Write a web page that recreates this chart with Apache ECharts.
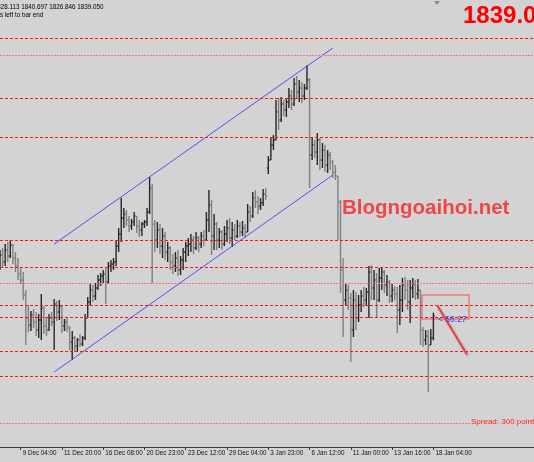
<!DOCTYPE html>
<html>
<head>
<meta charset="utf-8">
<script src="https://cdn.jsdelivr.net/npm/echarts@6/dist/echarts.min.js"></script>
<style>
  html, body { margin: 0; padding: 0; background: #d3d3d3; }
  #chart { width: 534px; height: 462px; }
</style>
</head>
<body>
<div id="chart"></div>
<script>
// XAUUSD H4 bars, index 0 = first visible bar
const opens = [
  1864.5, 1869.5, 1866, 1872, 1869, 1874.5, 1868, 1864, 1860, 1857,
  1849.5, 1838, 1834.5, 1839.5, 1836, 1832, 1837, 1843, 1834, 1832,
  1838, 1836, 1845, 1841, 1844, 1834, 1836, 1833, 1826, 1828,
  1824, 1827, 1825, 1828, 1838, 1846, 1852, 1849, 1853, 1857,
  1859, 1860, 1856, 1864, 1865, 1866, 1874, 1880, 1888, 1890,
  1887, 1884, 1886, 1889, 1884, 1882, 1885, 1886, 1891, 1902,
  1885, 1877, 1882, 1874, 1879, 1871, 1873, 1866, 1864, 1868,
  1862, 1867, 1871, 1874, 1875, 1877, 1873, 1878, 1875, 1879,
  1877, 1887, 1894.5, 1879, 1885, 1877, 1881, 1875, 1880, 1883,
  1878, 1882, 1879, 1884, 1881, 1883, 1881, 1891, 1889, 1898,
  1896, 1894, 1895.5, 1900, 1913, 1917, 1924.5, 1927, 1941, 1937,
  1945, 1942, 1946, 1949, 1945, 1955, 1951, 1953, 1949, 1953,
  1957, 1919.5, 1924.5, 1921, 1927, 1917, 1922, 1914.5, 1919.5, 1916,
  1911, 1909, 1896, 1862, 1847, 1852, 1848, 1832, 1847, 1838,
  1844.5, 1849, 1847, 1851, 1861, 1853, 1857, 1847, 1858, 1861,
  1854.5, 1856, 1849, 1852, 1850, 1842, 1847, 1854.5, 1852, 1846,
  1853, 1855, 1850, 1852, 1832, 1827, 1829, 1824.5, 1828.113
];
const highs = [
  1872, 1873, 1875, 1876, 1877, 1875, 1871, 1868, 1863, 1861,
  1852, 1844.5, 1841.5, 1842.5, 1841, 1840, 1850, 1844, 1838, 1840,
  1841, 1847.5, 1846.5, 1847, 1844, 1837.5, 1838, 1834, 1831.5, 1829,
  1828, 1830, 1829, 1840, 1848.5, 1855, 1854.5, 1855.5, 1859.5, 1860.5,
  1862, 1863, 1866, 1867, 1868, 1877, 1883, 1898, 1893, 1892,
  1889, 1887.5, 1891, 1889, 1887, 1886, 1887, 1893, 1908.5, 1905,
  1887, 1886, 1885, 1883, 1881, 1876, 1874, 1870, 1871, 1872,
  1869, 1873, 1876, 1878, 1880, 1879, 1881, 1879, 1881, 1882,
  1891, 1902, 1897, 1890, 1886, 1883, 1882, 1884, 1887, 1888,
  1886, 1885, 1887, 1886, 1886.5, 1885, 1895, 1894, 1901, 1902,
  1899, 1898, 1902.5, 1903, 1919, 1928.5, 1929.5, 1947, 1948, 1948.5,
  1947, 1948, 1953, 1952, 1958, 1959, 1957, 1956, 1955, 1964.5,
  1958, 1928, 1927, 1930.5, 1928, 1925.5, 1924.5, 1922, 1921, 1917,
  1914.5, 1909, 1897, 1868, 1855.5, 1854.5, 1850.5, 1852, 1851, 1849.5,
  1852, 1853.5, 1853, 1864, 1864.5, 1862, 1860.5, 1863, 1863.5, 1862,
  1859.5, 1857, 1855, 1854, 1853.5, 1854.5, 1858, 1858.5, 1857, 1857,
  1858, 1857, 1857.5, 1852, 1833.5, 1832, 1832, 1832.5, 1840.697
];
const lows = [
  1862, 1863, 1864, 1866, 1868, 1865, 1861, 1857, 1855, 1847,
  1824.5, 1831, 1831.5, 1833, 1829, 1828, 1827, 1830, 1829, 1831.5,
  1834, 1822, 1836.5, 1837, 1830.5, 1831.5, 1831, 1822, 1817, 1821,
  1821.5, 1823.5, 1824, 1827, 1838, 1844, 1846, 1847, 1852, 1854,
  1855.5, 1845, 1855, 1861, 1862, 1864, 1871, 1876, 1883, 1884,
  1881, 1882, 1884, 1880.5, 1878.5, 1879, 1883, 1884, 1890, 1855.5,
  1871, 1873, 1870, 1868, 1867, 1866, 1862, 1860, 1861, 1859,
  1859.5, 1862, 1866, 1869, 1871, 1870, 1872, 1871, 1873, 1874,
  1877, 1881, 1869.5, 1872, 1872, 1873, 1872, 1874, 1876, 1875,
  1873.5, 1877, 1878, 1878.5, 1879, 1878, 1881, 1886, 1888, 1893,
  1890, 1892, 1894, 1897, 1910, 1917, 1922, 1927, 1932, 1936,
  1939, 1938.5, 1943, 1942, 1944, 1948, 1946, 1945.5, 1947, 1952,
  1903, 1917, 1918, 1914.5, 1912, 1913, 1911, 1910.5, 1912, 1908,
  1907, 1877, 1850.5, 1828.5, 1844.5, 1842, 1816, 1828.5, 1832, 1836,
  1841, 1843.5, 1844, 1838, 1847, 1847, 1838.5, 1846, 1852, 1850.5,
  1849, 1845.5, 1846, 1847, 1830.5, 1834.5, 1841, 1847, 1842, 1835.5,
  1848, 1847, 1847.5, 1824.5, 1823.5, 1824.5, 1801, 1824.5, 1826.846
];
const closes = [
  1869.5, 1866, 1872, 1869, 1874.5, 1868, 1864, 1860, 1857, 1849.5,
  1838, 1834.5, 1839.5, 1836, 1832, 1837, 1843, 1834, 1832, 1838,
  1836, 1845, 1841, 1844, 1834, 1836, 1833, 1826, 1828, 1824,
  1827, 1825, 1828, 1838, 1846, 1852, 1849, 1853, 1857, 1859,
  1860, 1856, 1864, 1865, 1866, 1874, 1880, 1888, 1890, 1887,
  1884, 1886, 1889, 1884, 1882, 1885, 1886, 1891, 1903, 1885,
  1877, 1882, 1874, 1879, 1871, 1873, 1866, 1864, 1868, 1862,
  1867, 1871, 1874, 1875, 1877, 1873, 1878, 1875, 1879, 1877,
  1887, 1894.5, 1879, 1885, 1877, 1881, 1875, 1880, 1883, 1878,
  1882, 1879, 1884, 1881, 1883, 1881, 1891, 1889, 1898, 1896,
  1894, 1895.5, 1900, 1899, 1917, 1924.5, 1927, 1941, 1937, 1945,
  1942, 1946, 1949, 1945, 1955, 1951, 1953, 1949, 1953, 1957,
  1919.5, 1924.5, 1921, 1927, 1917, 1922, 1914.5, 1919.5, 1916, 1911,
  1909, 1896, 1862, 1847, 1852, 1848, 1832, 1847, 1838, 1844.5,
  1849, 1847, 1851, 1861, 1853, 1857, 1847, 1858, 1861, 1854.5,
  1856, 1849, 1852, 1850, 1842, 1847, 1854.5, 1852, 1846, 1853,
  1855, 1850, 1852, 1832, 1827, 1829, 1824.5, 1828, 1839.05
];

// time axis labels (every 16 bars)
const labelIndex = [8, 24, 40, 56, 72, 88, 104, 120, 136, 152, 168];
const labelText = ['9 Dec 04:00', '11 Dec 20:00', '16 Dec 08:00', '20 Dec 23:00', '23 Dec 12:00',
  '29 Dec 04:00', '3 Jan 23:00', '6 Jan 12:00', '11 Jan 00:00', '13 Jan 16:00', '18 Jan 04:00'];

// horizontal levels
const redLevels = [1978, 1948, 1928.5, 1877, 1863.5, 1844.5, 1838.5, 1821.5, 1809];
const pinkLevels = [1969.5, 1855.5];
const spreadLevel = 1785.5;

// channel: [barIndex, price]
const channelTop = [[21, 1875], [129, 1973]];
const channelBottom = [[21, 1811], [129, 1909.5]];

// drawn box and arrow
const boxCorners = [[163.6, 1849.5], [181.8, 1837.5]];
const arrowEnds = [[169.4, 1844.5], [181, 1819.75]];

const totalSlots = 208;
const upColor = '#262626';
const downColor = '#808080';

const barData = opens.map((o, i) => [i, o, highs[i], lows[i], closes[i]]);

const catData = [];
for (let i = 0; i < totalSlots; i++) {
  const k = labelIndex.indexOf(i);
  catData.push(k >= 0 ? labelText[k] : '');
}

function renderBar(params, api) {
  const i = api.value(0);
  const o = api.coord([i, api.value(1)]);
  const h = api.coord([i, api.value(2)]);
  const l = api.coord([i, api.value(3)]);
  const c = api.coord([i, api.value(4)]);
  const x = o[0];
  const color = api.value(4) >= api.value(1) ? upColor : downColor;
  return {
    type: 'group',
    children: [
      {type: 'line', shape: {x1: x, y1: h[1], x2: x, y2: l[1]}, style: {stroke: color, lineWidth: 1.4}},
      {type: 'line', shape: {x1: x - 1.6, y1: o[1], x2: x, y2: o[1]}, style: {stroke: color, lineWidth: 1}},
      {type: 'line', shape: {x1: x, y1: c[1], x2: x + 1.6, y2: c[1]}, style: {stroke: color, lineWidth: 1}}
    ]
  };
}

const levelLines = redLevels.map(v => ({
  yAxis: v, lineStyle: {color: '#ff1414', type: [3, 2], width: 1}
})).concat(pinkLevels.map(v => ({
  yAxis: v, lineStyle: {color: '#f07878', type: [2, 1], width: 1}
})));

const chart = echarts.init(document.getElementById('chart'));
chart.setOption({
  backgroundColor: '#d3d3d3',
  animation: false,
  grid: {left: 0, right: 0, top: 0, bottom: 15},
  xAxis: [
    {type: 'value', min: 0, max: totalSlots - 1, show: false},
    {
      type: 'category', data: catData, boundaryGap: false, position: 'bottom',
      axisLine: {show: true, lineStyle: {color: '#3a3a3a', width: 1}},
      axisTick: {show: true, length: 3, interval: (idx, v) => v !== '', lineStyle: {color: '#3a3a3a'}},
      axisLabel: {
        interval: (idx, v) => v !== '', align: 'left', margin: 3, padding: [0, 0, 0, 2],
        fontSize: 6.3, fontFamily: 'Liberation Sans', color: '#111'
      },
      splitLine: {show: false}
    }
  ],
  yAxis: {type: 'value', min: 1773.5, max: 1997, show: false},
  series: [
    {
      type: 'custom', xAxisIndex: 0, renderItem: renderBar, data: barData, z: 2,
      encode: {x: 0, y: [1, 2, 3, 4]}
    },
    {
      type: 'line', xAxisIndex: 0, data: [], z: 3,
      markLine: {
        silent: true, symbol: ['none', 'none'], label: {show: false}, animation: false,
        data: levelLines.concat([
          [{coord: [0, spreadLevel], lineStyle: {color: '#f07878', type: [2, 1], width: 1}},
           {coord: [182.5, spreadLevel]}],
          [{coord: arrowEnds[0], lineStyle: {color: '#ee3e3e', type: 'solid', width: 2,
            shadowColor: 'rgba(0,0,0,0.25)', shadowBlur: 2, shadowOffsetX: 1, shadowOffsetY: 1}},
           {coord: arrowEnds[1]}]
        ])
      },
      markArea: {
        silent: true,
        itemStyle: {color: 'rgba(255,255,255,0.04)', borderColor: '#ef7a7a', borderWidth: 1.5},
        data: [[{coord: boxCorners[0]}, {coord: boxCorners[1]}]]
      }
    },
    {
      type: 'line', xAxisIndex: 0, data: channelTop, showSymbol: false, z: 3,
      lineStyle: {color: '#4f4ff5', width: 1}
    },
    {
      type: 'line', xAxisIndex: 0, data: channelBottom, showSymbol: false, z: 3,
      lineStyle: {color: '#4f4ff5', width: 1}
    }
  ],
  graphic: [
    {type: 'text', x: -44, y: 7, z: 10, style: {
      text: 'XAUUSD,H4 1828.113 1840.697 1826.846 1839.050', font: '6.3px "Liberation Sans"',
      fill: '#000', verticalAlign: 'middle'}},
    {type: 'text', x: -19, y: 15.5, z: 10, style: {
      text: 'Minutes left to bar end', font: '6.3px "Liberation Sans"',
      fill: '#000', verticalAlign: 'middle'}},
    {type: 'polygon', z: 10, shape: {points: [[434, 1], [440, 1], [437, 5]]}, style: {fill: '#8c8c8c'}},
    {type: 'text', x: 463, y: 16.5, z: 10, style: {
      text: '1839.05', font: 'bold 24px "Liberation Sans"', fill: '#ff0000', verticalAlign: 'middle'}},
    {type: 'text', x: 342, y: 208, z: 10, style: {
      text: 'Blogngoaihoi.net', font: 'bold 20.5px "Liberation Sans"', fill: '#f04646',
      verticalAlign: 'middle', shadowColor: 'rgba(0,0,0,0.35)', shadowBlur: 3,
      shadowOffsetX: 2, shadowOffsetY: 2}},
    {type: 'text', x: 438, y: 320, z: 10, style: {
      text: '< 56:27', font: '8.5px "Liberation Sans"', fill: '#4242ee', verticalAlign: 'middle'}},
    {type: 'text', x: 471, y: 422, z: 10, style: {
      text: 'Spread: 300 points', font: '8px "Liberation Sans"', fill: '#ff2020', verticalAlign: 'middle'}}
  ]
});
</script>
</body>
</html>
